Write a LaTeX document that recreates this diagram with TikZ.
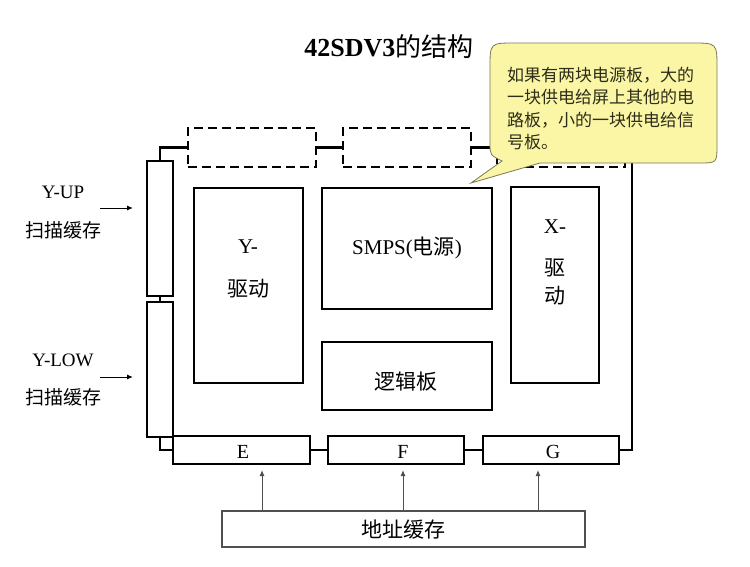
\documentclass[tikz,border=0pt]{standalone}
\usepackage{fontspec}
\setmainfont{Liberation Serif}
\newfontfamily\cjk{Noto Sans CJK SC}
\usetikzlibrary{arrows.meta}
\definecolor{calloutfill}{RGB}{250,246,165}
\definecolor{calloutline}{RGB}{120,120,90}
\definecolor{addrgray}{RGB}{80,80,80}
\definecolor{calltext}{RGB}{45,45,25}
\begin{document}
\begin{tikzpicture}[x=1pt,y=-1pt,
  bx/.style={draw, line width=2.8pt, inner sep=0pt, outer sep=0pt},
  dbx/.style={draw, line width=2.8pt, dash pattern=on 9pt off 5pt, inner sep=0pt, outer sep=0pt},
  wire/.style={line width=2.8pt},
  lbl/.style={inner sep=0pt, font=\fontsize{21}{25}\selectfont},
  sidelbl/.style={inner sep=0pt, font=\fontsize{19}{23}\selectfont},
  calllbl/.style={inner sep=0pt, anchor=west, text=calltext, font=\fontsize{17}{22}\selectfont\cjk},
  thinarr/.style={line width=1pt, -{Latex[length=6pt,width=5pt]}},
  addrarr/.style={line width=1pt, draw=addrgray, -{Latex[length=6pt,width=5pt]}},
  callout/.style={fill=calloutfill, draw=calloutline, line width=0.8pt}
]
\useasboundingbox (0,0) rectangle (750,566);

% title
\node[inner sep=0pt, font=\fontsize{26}{30}\selectfont] (title) at (389,47) {\textbf{42SDV3}{\cjk 的结构}};

% left scan boxes
\node[bx, minimum width=26pt, minimum height=135pt] (yup) at (160,228.5) {};
\node[bx, minimum width=26pt, minimum height=135pt] (ylow) at (160,369.5) {};

% dashed top boxes
\node[dbx, minimum width=128pt, minimum height=39pt] (d1) at (252,147.5) {};
\node[dbx, minimum width=128pt, minimum height=39pt] (d2) at (407,147.5) {};
\node[dbx, minimum width=128pt, minimum height=39pt] (d3) at (561,147.5) {};

% bottom E F G
\node[bx, minimum width=137pt, minimum height=28pt] (e) at (241.5,450) {};
\node[bx, minimum width=136pt, minimum height=28pt] (f) at (396,450) {};
\node[bx, minimum width=136pt, minimum height=28pt] (g) at (551,450) {};
\node[sidelbl, font=\fontsize{20}{24}\selectfont] (elbl) at (243,452) {E};
\node[sidelbl, font=\fontsize{20}{24}\selectfont] (flbl) at (403,452) {F};
\node[sidelbl, font=\fontsize{20}{24}\selectfont] (glbl) at (553,452) {G};

% inner boxes
\node[bx, minimum width=109pt, minimum height=195pt] (ydrv) at (248.5,285.5) {};
\node[lbl] (ydrv1) at (248,247) {Y-};
\node[lbl, font=\fontsize{21}{25}\selectfont\cjk] (ydrv2) at (248,289) {驱动};

\node[bx, minimum width=170pt, minimum height=121pt] (smps) at (407,248.5) {};
\node[lbl] (smpslbl) at (407,248) {SMPS({\cjk 电源})};

\node[bx, minimum width=170pt, minimum height=68pt] (logic) at (407,376) {};
\node[lbl, font=\fontsize{21}{25}\selectfont\cjk] (logiclbl) at (406,382) {逻辑板};

\node[bx, minimum width=88pt, minimum height=196pt] (xdrv) at (555,285) {};
\node[lbl] (xdrv1) at (555,227) {X-};
\node[lbl, font=\fontsize{21}{25}\selectfont\cjk] (xdrv2) at (555,268) {驱};
\node[lbl, font=\fontsize{21}{25}\selectfont\cjk] (xdrv3) at (555,296) {动};

% wiring of the frame
\coordinate (rtop) at (632,147.5);
\coordinate (rbot) at (632,450);
\draw[wire] (yup.north) |- (d1.west);
\draw[wire] (d1.east) -- (d2.west);
\draw[wire] (d2.east) -- (d3.west);
\draw[wire] (d3.east) -- (rtop) -- (rbot) -- (g.east);
\draw[wire] (yup.south) -- (ylow.north);
\draw[wire] (ylow.south) |- (e.west);
\draw[wire] (e.east) -- (f.west);
\draw[wire] (f.east) -- (g.west);

% left labels and arrows
\node[sidelbl] (uplbl) at (63,192) {Y-UP};
\node[sidelbl, font=\fontsize{19}{23}\selectfont\cjk] (upbuf) at (63,230) {扫描缓存};
\node[sidelbl] (lowlbl) at (63,360) {Y-LOW};
\node[sidelbl, font=\fontsize{19}{23}\selectfont\cjk] (lowbuf) at (63,397) {扫描缓存};
\coordinate (ua1) at (100,208);
\coordinate (ua2) at (133,208);
\coordinate (la1) at (100,377);
\coordinate (la2) at (133,377);
\draw[thinarr] (ua1) -- (ua2);
\draw[thinarr] (la1) -- (la2);

% address buffer
\node[draw=addrgray, line width=1.2pt, inner sep=0pt, minimum width=363pt, minimum height=36pt] (addr) at (403.5,529) {};
\node[inner sep=0pt, font=\fontsize{21}{25}\selectfont\cjk] (addrlbl) at (403,530) {地址缓存};
\coordinate (ae) at (262,470);
\coordinate (af) at (403,470);
\coordinate (ag) at (538,470);
\draw[addrarr] (addr.north -| ae) -- (ae);
\draw[addrarr] (addr.north -| af) -- (af);
\draw[addrarr] (addr.north -| ag) -- (ag);

% callout
\filldraw[callout] (471,183) -- (540,163) -- (699,163) .. controls (717,163) .. (717,145)
  -- (717,68) .. controls (717,43) .. (692,43) -- (515,43) .. controls (490,43) .. (490,68)
  -- (490,143) .. controls (490,155) .. (502,161) -- cycle;
\node[calllbl] (c1) at (507,75) {如果有两块电源板，大的};
\node[calllbl] (c2) at (507,97.5) {一块供电给屏上其他的电};
\node[calllbl] (c3) at (507,120) {路板，小的一块供电给信};
\node[calllbl] (c4) at (507,142.5) {号板。};
\end{tikzpicture}
\end{document}
